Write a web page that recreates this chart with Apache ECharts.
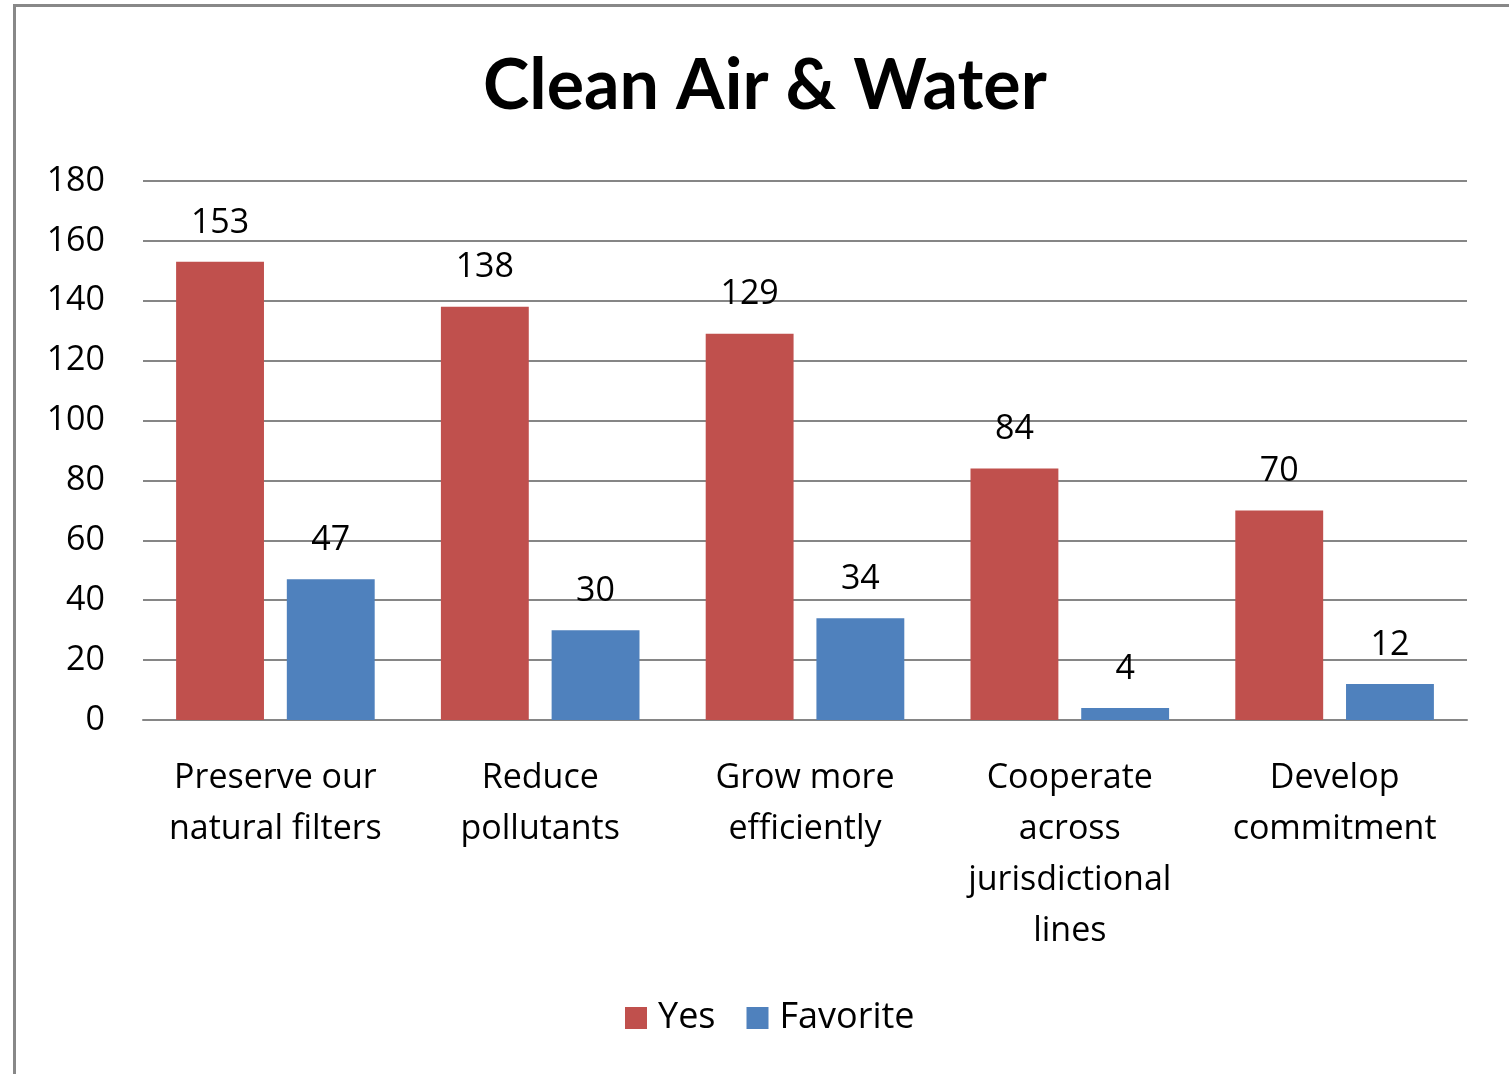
<!DOCTYPE html>
<html>
<head>
<meta charset="utf-8">
<script src="https://cdn.jsdelivr.net/npm/echarts@6/dist/echarts.min.js"></script>
<style>
  body { margin: 0; background: #fff; }
  #chart { width: 1509px; height: 1074px; }
  .frame {
    position: absolute; left: 13px; top: 4px; width: 1600px; height: 1200px;
    border-left: 3px solid #888; border-top: 3px solid #888; pointer-events: none;
  }
</style>
</head>
<body>
<div id="chart"></div>
<div class="frame"></div>
<script>
const categories = [
  "Preserve our\nnatural filters",
  "Reduce\npollutants",
  "Grow more\nefficiently",
  "Cooperate\nacross\njurisdictional\nlines",
  "Develop\ncommitment"
];
const yesValues = [153, 138, 129, 84, 70];
const favoriteValues = [47, 30, 34, 4, 12];

const font = "Open Sans";
const labelStyle = { show: true, position: "top", distance: 22, fontFamily: font, fontSize: 34, color: "#000" };

const chart = echarts.init(document.getElementById("chart"));
chart.setOption({
  animation: false,
  title: {
    text: "Clean Air & Water",
    left: 478,
    top: 46,
    textStyle: { fontFamily: "Lato", fontSize: 70, fontWeight: "bold", color: "#000" }
  },
  legend: {
    bottom: 33,
    left: 620,
    itemWidth: 22,
    itemHeight: 22,
    itemGap: 31,
    icon: "rect",
    textStyle: { fontFamily: font, fontSize: 36, color: "#000", padding: [0, 0, 0, 6] },
    data: ["Yes", "Favorite"]
  },
  grid: { left: 143, right: 42, top: 181, bottom: 354 },
  xAxis: {
    type: "category",
    data: categories,
    axisTick: { show: false },
    axisLine: { lineStyle: { color: "#868686", width: 2 } },
    axisLabel: {
      interval: 0,
      margin: 33,
      fontFamily: font,
      fontSize: 34,
      lineHeight: 51,
      color: "#000"
    }
  },
  yAxis: {
    type: "value",
    min: 0,
    max: 180,
    interval: 20,
    axisLine: { show: false },
    axisTick: { show: false },
    splitLine: { lineStyle: { color: "#868686", width: 2 } },
    axisLabel: { margin: 38, fontFamily: font, fontSize: 34, color: "#000", padding: [6, 0, 0, 0] }
  },
  series: [
    {
      name: "Yes",
      type: "bar",
      data: yesValues,
      barGap: "26%",
      barCategoryGap: "25%",
      itemStyle: { color: "#C0504D" },
      label: labelStyle
    },
    {
      name: "Favorite",
      type: "bar",
      data: favoriteValues,
      itemStyle: { color: "#4F81BD" },
      label: labelStyle
    }
  ]
});
</script>
</body>
</html>
